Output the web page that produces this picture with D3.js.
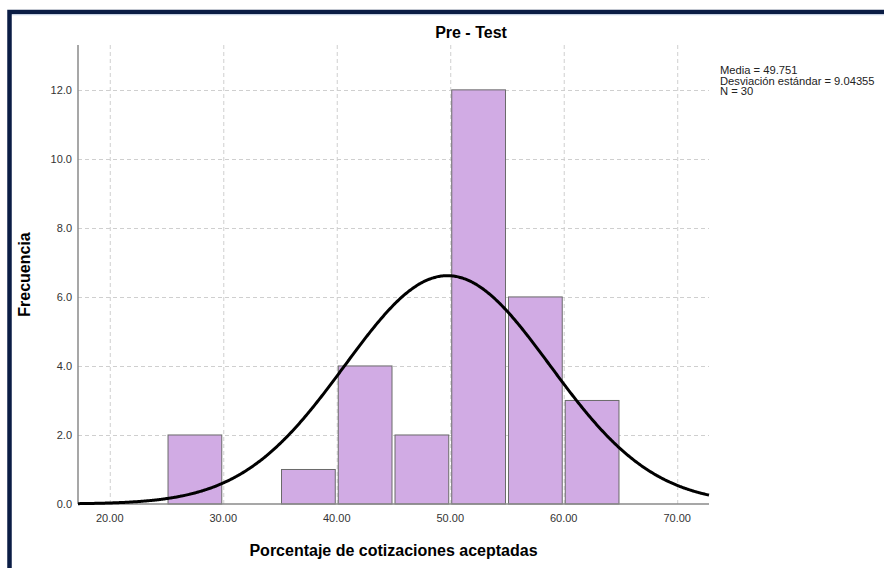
<!DOCTYPE html>
<html>
<head>
<meta charset="utf-8">
<script src="https://cdn.jsdelivr.net/npm/d3@7"></script>
<style>
  body { margin: 0; background: #fff; }
  svg { display: block; font-family: "Liberation Sans", Arial, sans-serif; }
</style>
</head>
<body>
<script>
// histogram bins (lower edge, width 5) and counts
const binStarts = [25, 35, 40, 45, 50, 55, 60];
const binCounts = [2, 1, 4, 2, 12, 6, 3];
const binWidth = 5;
const xTicks = [20, 30, 40, 50, 60, 70];
const yTicks = [0, 2, 4, 6, 8, 10, 12];
const media = 49.751, desv = 9.04355, n = 30;
const statLines = ["Media = 49.751", "Desviación estándar = 9.04355", "N = 30"];

const width = 884, height = 568;
const margin = {left: 78, right: 175, top: 45, bottom: 64};

const svg = d3.select("body").append("svg")
  .attr("width", width)
  .attr("height", height);

// outer frame
svg.append("path")
  .attr("d", `M9.5,${height + 5} V12 H${width + 5}`)
  .attr("fill", "none")
  .attr("stroke", "#0b1d45")
  .attr("stroke-width", 4.5);
svg.append("line")
  .attr("x1", 12).attr("x2", width).attr("y1", 14.8).attr("y2", 14.8)
  .attr("stroke", "#c9d6ea").attr("stroke-width", 1);

const x = d3.scaleLinear().domain([17.2, 72.8]).range([margin.left, width - margin.right]);
const y = d3.scaleLinear().domain([0, 13.3]).range([height - margin.bottom, margin.top]);

// grid
const grid = svg.append("g").attr("stroke", "#cfcfcf").attr("stroke-dasharray", "4,3");
grid.selectAll(".gx").data(xTicks).enter().append("line")
  .attr("x1", d => x(d) + 0.5).attr("x2", d => x(d) + 0.5)
  .attr("y1", y.range()[1]).attr("y2", y(0));
grid.selectAll(".gy").data(yTicks.filter(d => d > 0)).enter().append("line")
  .attr("x1", x.range()[0]).attr("x2", x.range()[1])
  .attr("y1", d => Math.round(y(d)) + 0.5).attr("y2", d => Math.round(y(d)) + 0.5);

// bars
svg.append("g").selectAll("rect").data(binStarts).enter().append("rect")
  .attr("x", d => x(d) + 1.5)
  .attr("y", (d, i) => y(binCounts[i]))
  .attr("width", x(binWidth) - x(0) - 3)
  .attr("height", (d, i) => y(0) - y(binCounts[i]))
  .attr("fill", "#d1abe4")
  .attr("stroke", "#6a6a6a")
  .attr("stroke-width", 1);

// axes lines
svg.append("line")
  .attr("x1", x.range()[0]).attr("x2", x.range()[0])
  .attr("y1", y.range()[1]).attr("y2", y(0))
  .attr("stroke", "#8a8a8a").attr("stroke-width", 1.5);
svg.append("line")
  .attr("x1", x.range()[0]).attr("x2", x.range()[1])
  .attr("y1", y(0)).attr("y2", y(0))
  .attr("stroke", "#8a8a8a").attr("stroke-width", 1.5);

// normal curve scaled to counts
const curveX = d3.range(x.domain()[0], x.domain()[1] + 0.01, 0.1);
const norm = v => n * binWidth / (desv * Math.sqrt(2 * Math.PI)) * Math.exp(-0.5 * Math.pow((v - media) / desv, 2));
svg.append("path")
  .datum(curveX)
  .attr("fill", "none")
  .attr("stroke", "#000")
  .attr("stroke-width", 3)
  .attr("d", d3.line().x(d => x(d)).y(d => y(norm(d))).curve(d3.curveBasis));

// tick labels
svg.append("g").selectAll("text").data(xTicks).enter().append("text")
  .attr("x", d => x(d)).attr("y", 522)
  .attr("text-anchor", "middle")
  .attr("font-size", 11).attr("fill", "#333")
  .text(d => d3.format(".2f")(d));
svg.append("g").selectAll("text").data(yTicks).enter().append("text")
  .attr("x", 72).attr("y", d => y(d) + 4)
  .attr("text-anchor", "end")
  .attr("font-size", 11).attr("fill", "#333")
  .text(d => d3.format(".1f")(d));

// titles
svg.append("text")
  .attr("x", 471).attr("y", 38)
  .attr("text-anchor", "middle")
  .attr("font-size", 16).attr("font-weight", "bold")
  .text("Pre - Test");
svg.append("text")
  .attr("x", (x.range()[0] + x.range()[1]) / 2).attr("y", 556)
  .attr("text-anchor", "middle")
  .attr("font-size", 16).attr("font-weight", "bold")
  .text("Porcentaje de cotizaciones aceptadas");
svg.append("text")
  .attr("transform", `translate(30,${(y.range()[0] + y.range()[1]) / 2}) rotate(-90)`)
  .attr("text-anchor", "middle")
  .attr("font-size", 16).attr("font-weight", "bold")
  .text("Frecuencia");

// stats box
svg.append("g").selectAll("text").data(statLines).enter().append("text")
  .attr("x", 720).attr("y", (d, i) => 74 + i * 10.5)
  .attr("font-size", 11.2).attr("fill", "#222")
  .text(d => d);
</script>
</body>
</html>
